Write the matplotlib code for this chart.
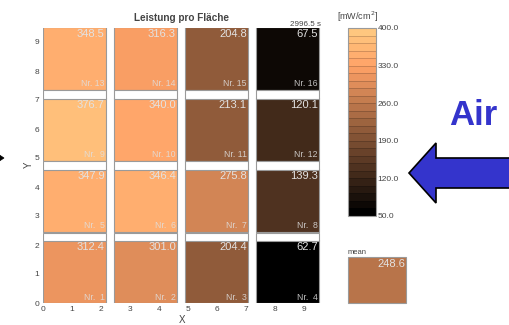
import matplotlib
matplotlib.use("Agg")
import matplotlib.pyplot as plt
from matplotlib.patches import Rectangle, Polygon
from matplotlib.colors import Normalize
import matplotlib.cm as cm

# sensor numbers and power per area [mW/cm^2], row by row from the bottom
nr = [1, 2, 3, 4, 5, 6, 7, 8, 9, 10, 11, 12, 13, 14, 15, 16]
leistung = [312.4, 301.0, 204.4, 62.7,
            347.9, 346.4, 275.8, 139.3,
            376.7, 340.0, 213.1, 120.1,
            348.5, 316.3, 204.8, 67.5]
mean_val = 248.6
zeit = "2996.5 s"
cb_ticks = [50.0, 120.0, 190.0, 260.0, 330.0, 400.0]
vmin, vmax = 50.0, 400.0

plt.rcParams['font.family'] = ['Liberation Sans', 'DejaVu Sans']

W, H = 509, 325
fig = plt.figure(figsize=(W / 100, H / 100), dpi=100)

def fx(px):
    return px / W

def fy(py):
    return 1 - py / H

cmap = plt.get_cmap('copper', 25)
norm = Normalize(vmin, vmax)
grey = '#444444'

ax = fig.add_axes([fx(43), fy(303), fx(278.4), 275.5 / H])
ax.set_xlim(0, 9.6)
ax.set_ylim(0, 9.5)
for s in ax.spines.values():
    s.set_visible(False)
ax.set_xticks(range(10))
ax.set_yticks(range(10))
ax.tick_params(length=0, labelsize=6, colors=grey, pad=2.5)
ax.set_xlabel('X', fontsize=7, color=grey, labelpad=1)
ax.set_ylabel('Y', fontsize=7, color=grey, labelpad=1)

pitch = 2.45
size = 2.16
strip = 0.29
for i, (n, v) in enumerate(zip(nr, leistung)):
    row, col = divmod(i, 4)
    x0, y0 = col * pitch, row * pitch
    ax.add_patch(Rectangle((x0, y0), size, size, facecolor=cmap(norm(v)),
                           edgecolor='#9a9a9a', lw=0.8))
    if row > 0:
        ax.add_patch(Rectangle((x0, y0 - strip - 0.02), size, strip,
                               facecolor='white', edgecolor='#9a9a9a', lw=0.8))
    ax.text(x0 + size - 0.03, y0 + size - 0.06, '%.1f' % v, ha='right', va='top',
            fontsize=8, color='#e2e2e2')
    ax.text(x0 + size - 0.03, y0 + 0.05, 'Nr. %2d' % n, ha='right', va='bottom',
            fontsize=6.3, color='#e0e0e0', alpha=0.85)

ax.text(1.0, 1.0, zeit, transform=ax.transAxes, ha='right', va='bottom',
        fontsize=5.8, color=grey)
fig.text(fx(181), fy(18), 'Leistung pro Fläche', ha='center', va='center',
         fontsize=7.2, fontweight='bold', color=grey)

# colorbar
cax = fig.add_axes([fx(348), fy(216), fx(28), 188 / H])
cb = fig.colorbar(cm.ScalarMappable(norm=norm, cmap=cmap), cax=cax,
                  ticks=cb_ticks, format='%.1f', drawedges=True)
cb.outline.set_edgecolor('#9a9a9a')
cb.outline.set_linewidth(0.8)
cb.dividers.set_color((0, 0, 0, 0.25))
cb.dividers.set_linewidth(0.5)
cax.tick_params(length=0, labelsize=6, colors=grey, pad=1)
fig.text(fx(337), fy(17), '[mW/cm$^2$]', ha='left', va='center',
         fontsize=6.5, color=grey)

# mean box
max_ = fig.add_axes([fx(348), fy(303), fx(58), 46 / H])
max_.set_xlim(0, 1)
max_.set_ylim(0, 1)
max_.axis('off')
max_.add_patch(Rectangle((0, 0), 1, 1, facecolor=cmap(norm(mean_val)),
                         edgecolor='#9a9a9a', lw=0.8, clip_on=False))
max_.text(0.98, 0.95, '%.1f' % mean_val, ha='right', va='top',
          fontsize=8, color='#e2e2e2')
max_.text(0.0, 1.02, 'mean', ha='left', va='bottom', fontsize=5.5,
          color=grey)

# air flow annotation
blue = '#3434cc'
fig.text(fx(473), fy(115), 'Air', ha='center', va='center', fontsize=25,
         fontweight='bold', color=blue)
arrow = [(409, 173), (436, 143), (436, 158), (512, 158), (512, 188),
         (436, 188), (436, 203)]
fig.patches.append(Polygon([(fx(a), fy(b)) for a, b in arrow], closed=True,
                           facecolor=blue, edgecolor='black', lw=1.2,
                           transform=fig.transFigure, figure=fig))
tip = [(-2, 154), (4, 158), (-2, 162)]
fig.patches.append(Polygon([(fx(a), fy(b)) for a, b in tip], closed=True,
                           facecolor='black', edgecolor='black', lw=0.5,
                           transform=fig.transFigure, figure=fig))

fig.savefig('out.png', dpi=100)
